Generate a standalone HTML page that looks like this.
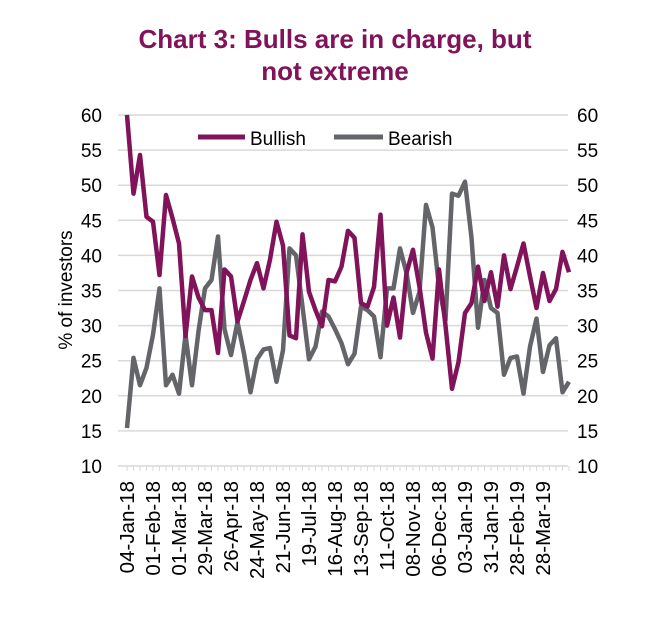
<!DOCTYPE html>
<html><head><meta charset="utf-8"><style>
body{margin:0;background:#fff;font-family:"Liberation Sans",Arial,sans-serif}
</style></head><body>
<svg id="c" width="672" height="620" xmlns="http://www.w3.org/2000/svg" style="font-family:'Liberation Sans',Arial,sans-serif">
<text x="335" y="48" text-anchor="middle" font-size="26" font-weight="bold" fill="#80135A">Chart 3: Bulls are in charge, but</text>
<text x="335" y="80" text-anchor="middle" font-size="26" font-weight="bold" fill="#80135A">not extreme</text>
<g id="grid"></g><g id="ticks"></g><g id="series"></g>
<text transform="translate(72,290) rotate(-90)" text-anchor="middle" font-size="19" fill="#000">% of investors</text>
<g>
<line x1="198" y1="137" x2="245" y2="137" stroke="#80135A" stroke-width="5"/>
<text x="250" y="145" font-size="19">Bullish</text>
<line x1="334" y1="137" x2="383" y2="137" stroke="#636569" stroke-width="5"/>
<text x="388" y="145" font-size="19">Bearish</text>
</g>
</svg>
<script>
const yTicks=[10,15,20,25,30,35,40,45,50,55,60];
const xLabels=["04-Jan-18","01-Feb-18","01-Mar-18","29-Mar-18","26-Apr-18","24-May-18","21-Jun-18","19-Jul-18","16-Aug-18","13-Sep-18","11-Oct-18","08-Nov-18","06-Dec-18","03-Jan-19","31-Jan-19","28-Feb-19","28-Mar-19"];
const bullish=[60,48.8,54.3,45.5,44.8,37.2,48.6,45.3,41.7,28.5,37,34,32.2,32.2,26.1,38,37,30.6,33.5,36.5,38.9,35.3,39.4,44.8,41.4,28.6,28.2,43,34.8,32.2,29.9,36.5,36.3,38.4,43.5,42.5,33.2,32.7,35.5,45.8,30,34,28.3,37.5,40.8,35.5,29,25.3,38,30,21,24.8,31.8,33.2,38.4,33.5,37.6,32.7,40,35.2,38.4,41.7,37,32.5,37.5,33.5,35.2,40.5,37.6];
const bearish=[15.4,25.4,21.5,24,28.7,35.3,21.5,23,20.3,28.7,21.5,29.2,35.3,36.5,42.7,29.5,25.8,30.5,26,20.5,25.2,26.6,26.8,22,26.5,41,40,32.7,25.2,27,32,31.3,29.5,27.5,24.5,26,32.7,32.2,31.3,25.5,35.3,35.3,41,37.5,31.8,34.8,47.2,44,35.5,30.8,48.8,48.5,50.5,42.5,29.7,36.5,32.5,31.8,23,25.4,25.6,20.3,27,31,23.4,27.2,28.2,20.5,22];
const NS="http://www.w3.org/2000/svg";
const X0=127,STEP=6.5,Y60=115,Y10=466,XL=118,XR=568;
const sx=i=>X0+i*STEP, sy=v=>Y10-(v-10)*(Y10-Y60)/50;
function mk(t,a,p){const e=document.createElementNS(NS,t);for(const k in a)e.setAttribute(k,a[k]);p.appendChild(e);return e;}
const g=document.getElementById('grid'),tk=document.getElementById('ticks'),s=document.getElementById('series');
yTicks.forEach(v=>{
 const l=mk('line',{x1:XL,x2:XR,y1:sy(v),y2:sy(v),stroke:'#d9d9d9','stroke-width':1.5},g);
 
 
 const a=mk('text',{x:102,y:sy(v)+7,'text-anchor':'end','font-size':19},tk);a.textContent=v;
 
 
 const b=mk('text',{x:577,y:sy(v)+7,'font-size':19},tk);b.textContent=v;
 
 
});
bullish.forEach((_,i)=>{
 const t=mk('line',{x1:sx(i),x2:sx(i),y1:Y10,y2:Y10+5,stroke:'#d9d9d9','stroke-width':1},g);
 
 
});
xLabels.forEach((t,i)=>{
 const x=sx(i*4);
 const e=mk('text',{transform:`translate(${x+7},481) rotate(-90)`,'text-anchor':'end','font-size':20.5},tk);e.textContent=t;
 
 
});
function line(d,c,n){
 const p=mk('polyline',{points:d.map((v,i)=>sx(i)+','+sy(v)).join(' '),fill:'none',stroke:c,'stroke-width':4.5,'stroke-linejoin':'round'},s);
 
 
}
line(bearish,'#636569','bearish-line');
line(bullish,'#80135A','bullish-line');
</script>
</body></html>
